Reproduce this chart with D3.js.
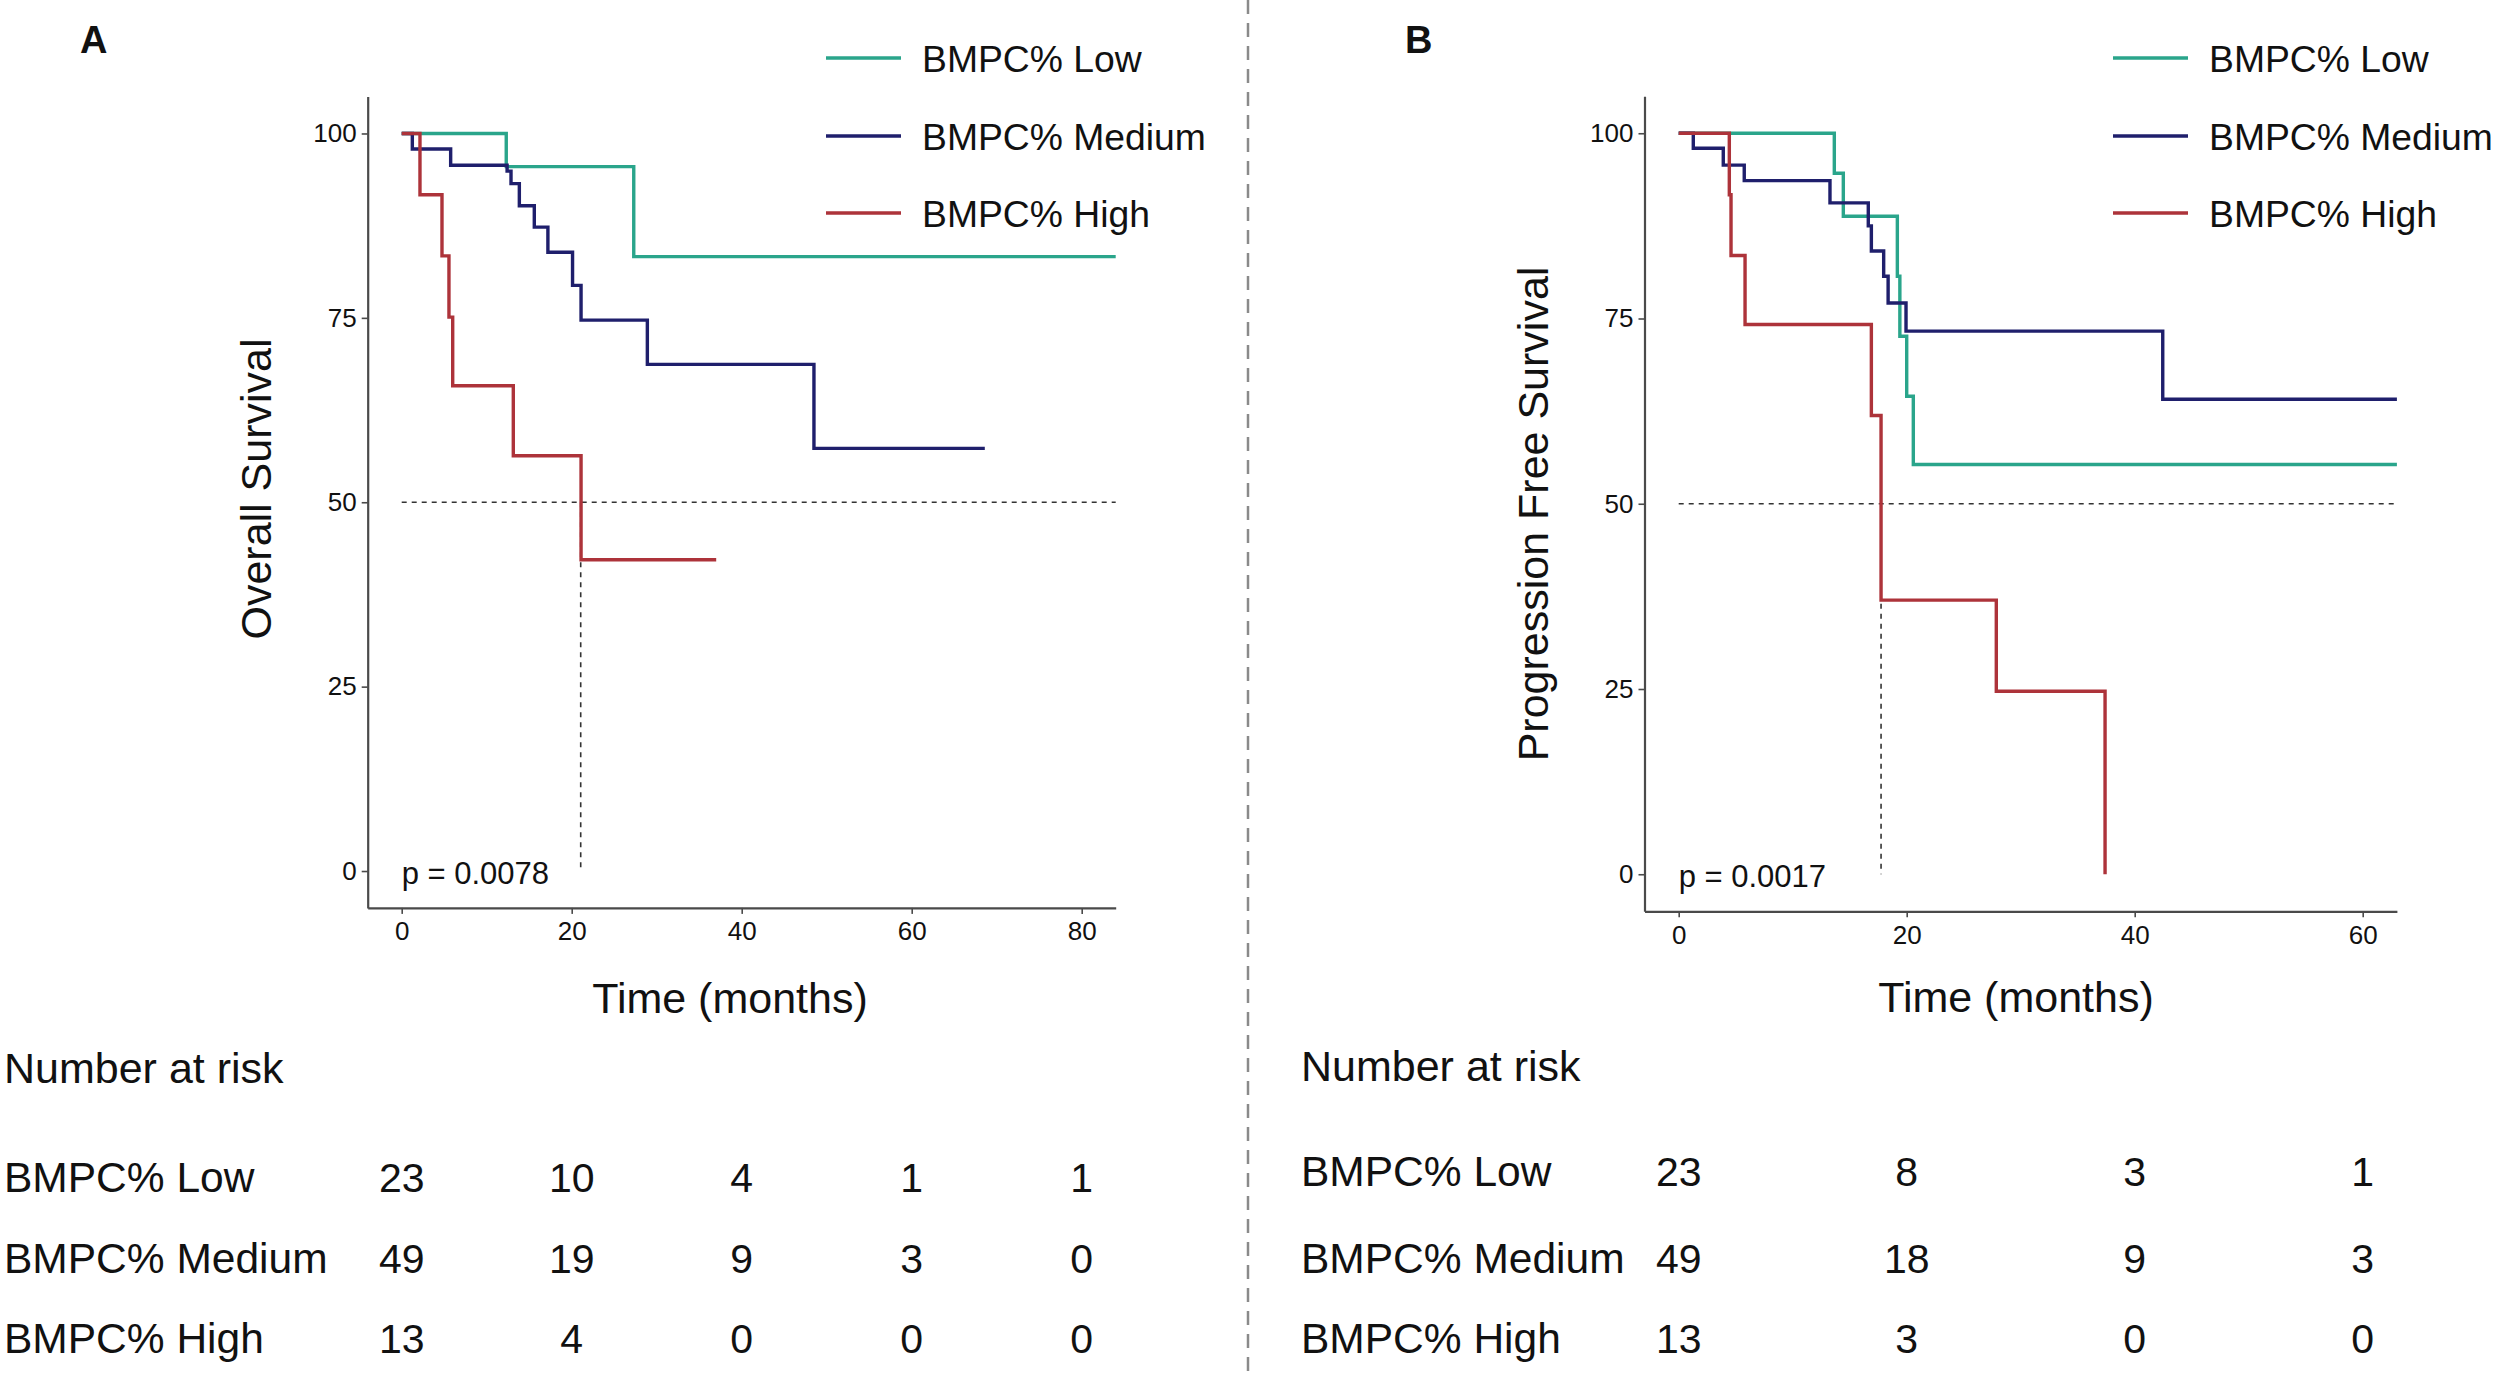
<!DOCTYPE html>
<html lang="en">
<head>
<meta charset="utf-8">
<title>BMPC% survival curves</title>
<script src="https://cdn.jsdelivr.net/npm/d3@7"></script>
<style>
  body { margin: 0; background: #fff; }
  text { font-family: "Liberation Sans", Arial, sans-serif; fill: #111; }
</style>
</head>
<body>
<div id="chart"></div>
<script>
// groups and colours
var groups = ["BMPC% Low", "BMPC% Medium", "BMPC% High"];
var colors = ["#2aa58b", "#1f1f6c", "#ad333a"];

// panel A - overall survival (months, %)
var osLowT = [0, 12.3, 27.3];
var osLowS = [100, 95.5, 83.3];
var osLowEnd = 84;
var osMedT = [0, 1.25, 5.76, 12.4, 12.86, 13.84, 15.6, 17.2, 20.1, 21.1, 28.9, 48.5];
var osMedS = [100, 97.9, 95.7, 94.9, 93.2, 90.2, 87.3, 83.9, 79.4, 74.7, 68.7, 57.3];
var osMedEnd = 68.6;
var osHighT = [0, 2.15, 4.74, 5.56, 6.0, 13.13, 21.1];
var osHighS = [100, 91.7, 83.4, 75.1, 65.8, 56.3, 42.2];
var osHighEnd = 37.0;
var osMedian = 21.06;
var osP = "p = 0.0078";

// panel B - progression free survival
var pfsLowT = [0, 13.65, 14.44, 19.18, 19.4, 20.0, 20.58];
var pfsLowS = [100, 94.6, 88.8, 80.7, 72.6, 64.5, 55.3];
var pfsLowEnd = 63;
var pfsMedT = [0, 1.28, 3.91, 5.75, 13.27, 16.63, 16.9, 17.98, 18.37, 19.94, 42.46];
var pfsMedS = [100, 97.97, 95.7, 93.6, 90.6, 87.5, 84.1, 80.7, 77.1, 73.3, 64.1];
var pfsMedEnd = 63;
var pfsHighT = [0, 4.44, 4.59, 5.82, 16.9, 17.75, 27.86, 37.4];
var pfsHighS = [100, 91.7, 83.5, 74.2, 61.9, 37.0, 24.7, 0];
var pfsHighEnd = 37.4;
var pfsMedian = 17.75;
var pfsP = "p = 0.0017";

// number at risk
var osRiskTimes = [0, 20, 40, 60, 80];
var osRiskLow = [23, 10, 4, 1, 1];
var osRiskMed = [49, 19, 9, 3, 0];
var osRiskHigh = [13, 4, 0, 0, 0];
var pfsRiskTimes = [0, 20, 40, 60];
var pfsRiskLow = [23, 8, 3, 1];
var pfsRiskMed = [49, 18, 9, 3];
var pfsRiskHigh = [13, 3, 0, 0];

var yTicks = [0, 25, 50, 75, 100];

var W = 2500, H = 1378;
var svg = d3.select("#chart").append("svg")
  .attr("width", W).attr("height", H);
svg.append("rect").attr("width", W).attr("height", H).attr("fill", "#fff");

function series(t, s, end) {
  var pts = t.map(function(d, i) { return [d, s[i]]; });
  pts.push([end, s[s.length - 1]]);
  return pts;
}

function drawPanel(p) {
  var g = svg.append("g");
  var x = p.x, y = p.y;

  // axes
  var xAxis = g.append("g")
    .attr("transform", "translate(0," + y.range()[0] + ")")
    .call(d3.axisBottom(x).tickValues(p.xTicks).tickSize(6).tickSizeOuter(0).tickPadding(8));
  var yAxis = g.append("g")
    .attr("transform", "translate(" + x.range()[0] + ",0)")
    .call(d3.axisLeft(y).tickValues(yTicks).tickSize(6).tickSizeOuter(0).tickPadding(5));
  [xAxis, yAxis].forEach(function(a) {
    a.select(".domain").attr("stroke", "#4a4a4a").attr("stroke-width", 2.2);
    a.selectAll(".tick line").attr("stroke", "#4a4a4a").attr("stroke-width", 1.6);
    a.selectAll(".tick text").attr("font-size", 26).attr("fill", "#222")
      .style("font-family", "'Liberation Sans', Arial, sans-serif");
  });

  // median lines
  g.append("line")
    .attr("x1", x(0)).attr("x2", x.range()[1])
    .attr("y1", y(50)).attr("y2", y(50))
    .attr("stroke", "#333").attr("stroke-width", 1.6).attr("stroke-dasharray", "5 5");
  g.append("line")
    .attr("x1", x(p.median)).attr("x2", x(p.median))
    .attr("y1", y(50)).attr("y2", y(0))
    .attr("stroke", "#333").attr("stroke-width", 1.6).attr("stroke-dasharray", "5 5");

  // curves
  var line = d3.line()
    .x(function(d) { return x(d[0]); })
    .y(function(d) { return y(d[1]); })
    .curve(d3.curveStepAfter);
  p.curves.forEach(function(c, i) {
    g.append("path")
      .attr("d", line(c))
      .attr("fill", "none")
      .attr("stroke", colors[i])
      .attr("stroke-width", 3.4);
  });

  // p value
  g.append("text").attr("x", x(0)).attr("y", p.pY)
    .attr("font-size", 31).text(p.pText);

  // titles
  g.append("text")
    .attr("transform", "translate(" + p.yTitleX + "," + p.yTitleY + ") rotate(-90)")
    .attr("text-anchor", "middle").attr("font-size", 43).text(p.yTitle);
  g.append("text")
    .attr("x", p.xTitleX).attr("y", p.xTitleY)
    .attr("text-anchor", "middle").attr("font-size", 43).text("Time (months)");

  // panel letter
  g.append("text").attr("x", p.letterX).attr("y", 53)
    .attr("font-size", 38).attr("font-weight", "bold").text(p.letter);

  // legend
  var legY = [58, 136, 213];
  groups.forEach(function(name, i) {
    g.append("line")
      .attr("x1", p.legX).attr("x2", p.legX + 75)
      .attr("y1", legY[i]).attr("y2", legY[i])
      .attr("stroke", colors[i]).attr("stroke-width", 3.5);
    g.append("text")
      .attr("x", p.legX + 96).attr("y", legY[i] + 14)
      .attr("font-size", 37.3).text(name);
  });

  // number at risk table
  g.append("text").attr("x", p.tableX).attr("y", p.tableTitleY)
    .attr("font-size", 43).text("Number at risk");
  var rowY = p.rowY;
  p.risk.forEach(function(row, i) {
    g.append("text").attr("x", p.tableX).attr("y", rowY[i])
      .attr("font-size", 42.5).text(groups[i]);
    g.selectAll(null)
      .data(row)
      .enter()
      .append("text")
      .attr("x", function(d, j) { return x(p.riskTimes[j]); })
      .attr("y", rowY[i])
      .attr("text-anchor", "middle")
      .attr("font-size", 41)
      .text(function(d) { return d; });
  });
}

drawPanel({
  letter: "A", letterX: 80,
  x: d3.scaleLinear().domain([-4, 84]).range([367.7, 1115.7]),
  y: d3.scaleLinear().domain([-5, 105]).range([907.9, 96.6]),
  xTicks: [0, 20, 40, 60, 80],
  median: osMedian,
  curves: [series(osLowT, osLowS, osLowEnd), series(osMedT, osMedS, osMedEnd), series(osHighT, osHighS, osHighEnd)],
  pText: osP, pY: 884,
  yTitle: "Overall Survival", yTitleX: 271, yTitleY: 489,
  xTitleX: 730, xTitleY: 1013,
  legX: 826,
  tableX: 4, tableTitleY: 1083, rowY: [1192, 1273, 1353],
  riskTimes: osRiskTimes,
  risk: [osRiskLow, osRiskMed, osRiskHigh]
});

drawPanel({
  letter: "B", letterX: 1405,
  x: d3.scaleLinear().domain([-3, 63]).range([1644.5, 2396.9]),
  y: d3.scaleLinear().domain([-5, 105]).range([911.3, 96.2]),
  xTicks: [0, 20, 40, 60],
  median: pfsMedian,
  curves: [series(pfsLowT, pfsLowS, pfsLowEnd), series(pfsMedT, pfsMedS, pfsMedEnd), series(pfsHighT, pfsHighS, pfsHighEnd)],
  pText: pfsP, pY: 887,
  yTitle: "Progression Free Survival", yTitleX: 1548, yTitleY: 514,
  xTitleX: 2016, xTitleY: 1012,
  legX: 2113,
  tableX: 1301, tableTitleY: 1081, rowY: [1186, 1273, 1353],
  riskTimes: pfsRiskTimes,
  risk: [pfsRiskLow, pfsRiskMed, pfsRiskHigh]
});

// dashed separator between the panels
svg.append("line")
  .attr("x1", 1248).attr("x2", 1248)
  .attr("y1", 0).attr("y2", H)
  .attr("stroke", "#8a8a8a").attr("stroke-width", 2.5)
  .attr("stroke-dasharray", "14 9");
</script>
</body>
</html>
